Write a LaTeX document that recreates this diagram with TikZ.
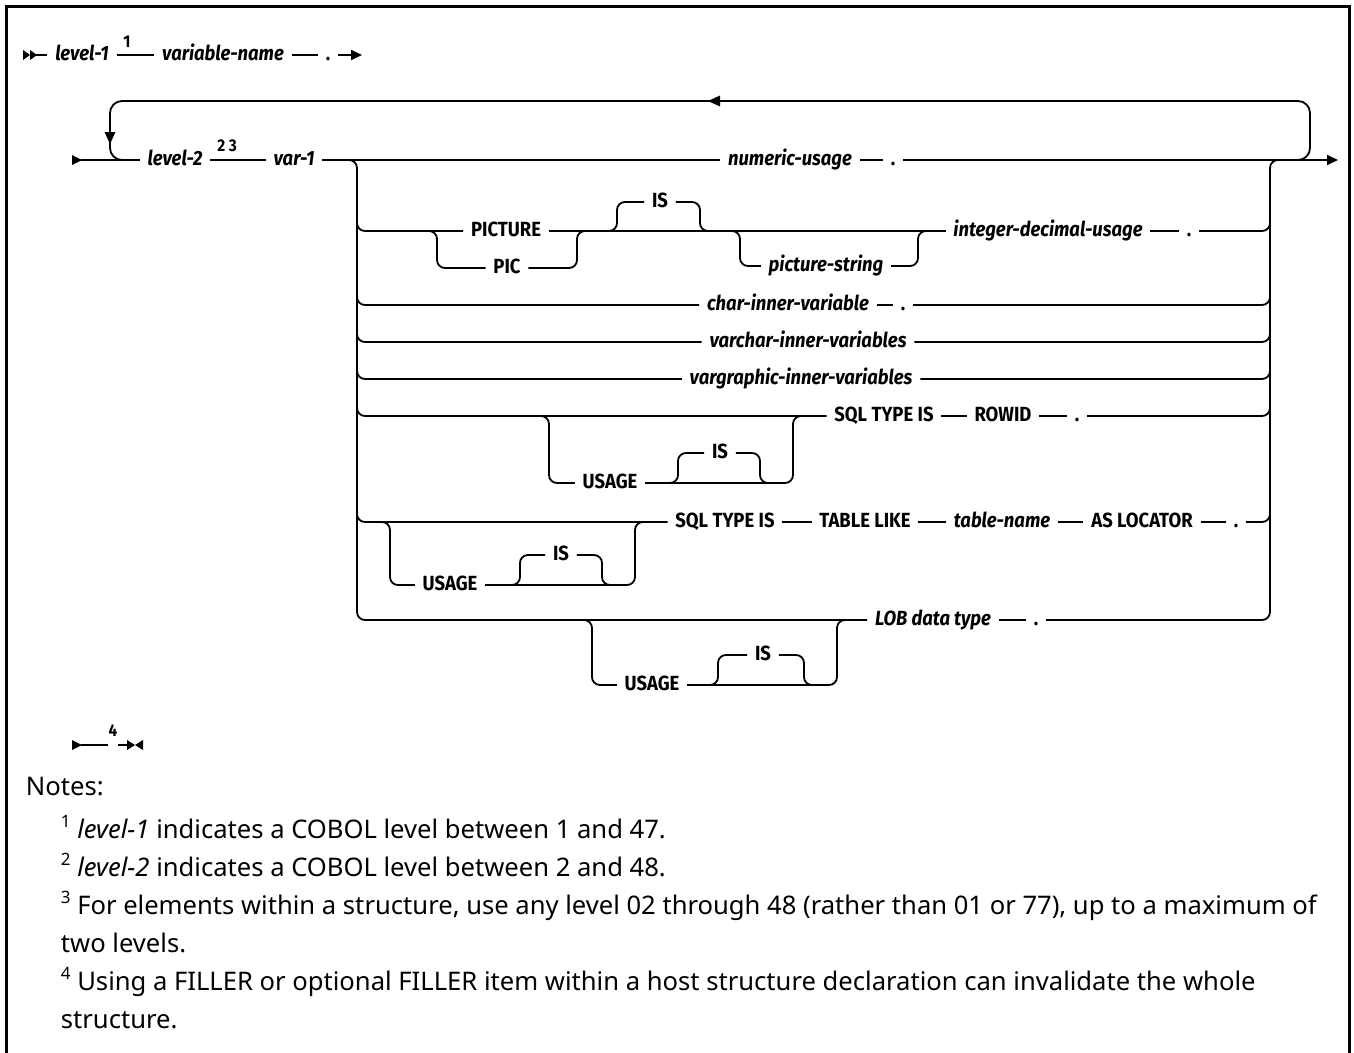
\documentclass[tikz,border=0pt]{standalone}
\usepackage{fontspec}
\setmainfont{Noto Sans}
\newfontfamily\dfont[FakeStretch=0.9]{Fira Sans}
\usetikzlibrary{arrows.meta}
\begin{document}
\begin{tikzpicture}[x=1pt,y=-1pt,line width=1.8pt,
  lbl/.style={inner xsep=7pt,inner ysep=0pt,text height=10pt,text depth=0pt,font=\dfont\bfseries\fontsize{20.5}{22}\selectfont},
  kw/.style={lbl},
  var/.style={lbl,font=\dfont\bfseries\itshape\fontsize{20.5}{22}\selectfont},
  supn/.style={inner sep=0pt,font=\dfont\bfseries\fontsize{17}{17}\selectfont},
  rc/.style={rounded corners=8pt},
  tip/.style={-{Triangle[length=11pt,width=10pt]}},
  note/.style={anchor=base west,inner sep=0pt,font=\fontsize{25.6}{30}\selectfont},
  frame/.style={line width=3pt}]
\useasboundingbox (0,0) rectangle (1354,1052);
\newcommand{\nsup}[1]{\raisebox{11pt}{\fontsize{17}{17}\selectfont #1}}
% frame
\draw[frame] (6,1060) -- (6,6) -- (1349,6) -- (1349,1060);

% ---------- row 1
\fill (23,50) -- (30,55) -- (23,60) -- cycle;
\fill (30,50) -- (37,55) -- (30,60) -- cycle;
\coordinate (s1) at (36,55);
\node[var] (lv1) at (82,55) {level-1};
\node[supn] (n1) at (127,42) {1};
\node[var] (vn) at (223,55) {variable-name};
\node[kw] (d1) at (328,55) {.};
\coordinate (e1) at (362,55);
\draw (s1) -- (lv1);
\draw (lv1) -- (vn);
\draw (vn) -- (d1);
\draw[tip] (d1) -- (e1);

% ---------- row 2 main
\fill (72,155) -- (82,160) -- (72,165) -- cycle;
\coordinate (s2) at (81,160);
\node[var] (lv2) at (175,160) {level-2};
\node[supn] (n23) at (227,146) {2 3};
\node[var] (var1) at (294,160) {var-1};
\node[var] (nu) at (790,160) {numeric-usage};
\node[kw] (d2) at (893,160) {.};
\coordinate (e2) at (1338,160);
\draw (s2) -- (lv2);
\draw (lv2) -- (var1);
\draw (var1) -- (nu);
\draw (nu) -- (d2);
\draw[tip] (d2) -- (e2);

% repeat loop
\draw[rounded corners=12pt] (1285,160) -- (1310,160) -- (1310,101) -- (110,101) -- (110,160) -- (135,160);
\fill (708,101) -- (720,95.5) -- (720,106.5) -- cycle;
\fill (110,144) -- (104.5,132) -- (115.5,132) -- cycle;

% choice block sides
\node[var] (lob) at (933,620) {LOB data type};
\node[kw] (d7) at (1036,620) {.};
\draw[rc] (340,160) -- (357,160) -- (357,620) -- (lob.west);
\draw (lob) -- (d7);
\draw[rc] (d7.east) -- (1270,620) -- (1270,160) -- (1292,160);

% ---------- branch 2: PICTURE
\node[kw] (pict) at (506,231) {PICTURE};
\node[kw] (pic) at (507,268) {PIC};
\node[kw] (is1) at (660,202) {IS};
\node[var] (ps) at (826,266) {picture-string};
\node[var] (idu) at (1048,231) {integer-decimal-usage};
\node[kw] (d3) at (1189,231) {.};
\draw[rc] (357,211) -- (357,231) -- (pict.west);
\draw[rc] (420,231) -- (437,231) -- (437,268) -- (pic.west);
\draw[rc] (pic.east) -- (577,268) -- (577,231) -- (594,231);
\draw (pict) -- (idu);
\draw[rc] (600,231) -- (617,231) -- (617,202) -- (is1.west);
\draw[rc] (is1.east) -- (700,202) -- (700,231) -- (717,231);
\draw[rc] (723,231) -- (740,231) -- (740,266) -- (ps.west);
\draw[rc] (ps.east) -- (918,266) -- (918,231) -- (935,231);
\draw (idu) -- (d3);
\draw[rc] (d3.east) -- (1270,231) -- (1270,211);

% ---------- branch 3-5
\node[var] (civ) at (788,305) {char-inner-variable};
\node[kw] (d4) at (903,305) {.};
\draw[rc] (357,285) -- (357,305) -- (civ.west);
\draw (civ) -- (d4);
\draw[rc] (d4.east) -- (1270,305) -- (1270,285);

\node[var] (vciv) at (808,342) {varchar-inner-variables};
\draw[rc] (357,322) -- (357,342) -- (vciv.west);
\draw[rc] (vciv.east) -- (1270,342) -- (1270,322);

\node[var] (vgiv) at (801,379) {vargraphic-inner-variables};
\draw[rc] (357,359) -- (357,379) -- (vgiv.west);
\draw[rc] (vgiv.east) -- (1270,379) -- (1270,359);

% ---------- branch 6: SQL TYPE IS ROWID
\node[kw] (sql1) at (884,416) {SQL TYPE IS};
\node[kw] (rowid) at (1003,416) {ROWID};
\node[kw] (d5) at (1077,416) {.};
\node[kw] (us1) at (610,483) {USAGE};
\node[kw] (is2) at (720,453) {IS};
\draw[rc] (357,396) -- (357,416) -- (sql1.west);
\draw[rc] (532,416) -- (549,416) -- (549,483) -- (us1.west);
\draw[rc] (us1.east) -- (793,483) -- (793,416) -- (810,416);
\draw[rc] (661,483) -- (678,483) -- (678,453) -- (is2.west);
\draw[rc] (is2.east) -- (760,453) -- (760,483) -- (777,483);
\draw (sql1) -- (rowid);
\draw (rowid) -- (d5);
\draw[rc] (d5.east) -- (1270,416) -- (1270,396);

% ---------- branch 7: SQL TYPE IS TABLE LIKE
\node[kw] (sql2) at (725,522) {SQL TYPE IS};
\node[kw] (tl) at (865,522) {TABLE LIKE};
\node[var] (tn) at (1002,522) {table-name};
\node[kw] (asl) at (1142,522) {AS LOCATOR};
\node[kw] (d6) at (1236,522) {.};
\node[kw] (us2) at (450,585) {USAGE};
\node[kw] (is3) at (561,555) {IS};
\draw[rc] (357,502) -- (357,522) -- (sql2.west);
\draw[rc] (373,522) -- (390,522) -- (390,585) -- (us2.west);
\draw[rc] (us2.east) -- (635,585) -- (635,522) -- (652,522);
\draw[rc] (503,585) -- (520,585) -- (520,555) -- (is3.west);
\draw[rc] (is3.east) -- (602,555) -- (602,585) -- (619,585);
\draw (sql2) -- (tl);
\draw (tl) -- (tn);
\draw (tn) -- (asl);
\draw (asl) -- (d6);
\draw[rc] (d6.east) -- (1270,522) -- (1270,502);

% ---------- branch 8: LOB
\node[kw] (us3) at (652,685) {USAGE};
\node[kw] (is4) at (763,655) {IS};
\draw[rc] (575,620) -- (592,620) -- (592,685) -- (us3.west);
\draw[rc] (us3.east) -- (837,685) -- (837,620) -- (854,620);
\draw[rc] (701,685) -- (718,685) -- (718,655) -- (is4.west);
\draw[rc] (is4.east) -- (804,655) -- (804,685) -- (821,685);

% ---------- end marker
\fill (72,740) -- (82,745) -- (72,750) -- cycle;
\coordinate (s3) at (81,745);
\node[supn] (n4) at (113,731) {4};
\coordinate (m3) at (108,745);
\coordinate (m4) at (118,745);
\coordinate (e3) at (128,745);
\draw (s3) -- (m3);
\draw (m4) -- (e3);
\fill (127,740) -- (135,745) -- (127,750) -- cycle;
\fill (143,740) -- (135,745) -- (143,750) -- cycle;

% ---------- notes
\node[note] (notes) at (25,795) {Notes:};
\node[note] (nt1) at (60,838) {\nsup{1} \textit{level-1} indicates a COBOL level between 1 and 47.};
\node[note] (nt2) at (60,876) {\nsup{2} \textit{level-2} indicates a COBOL level between 2 and 48.};
\node[note] (nt3) at (60,914) {\nsup{3} For elements within a structure, use any level 02 through 48 (rather than 01 or 77), up to a maximum of};
\node[note] (nt4) at (60,952) {two levels.};
\node[note] (nt5) at (60,990) {\nsup{4} Using a FILLER or optional FILLER item within a host structure declaration can invalidate the whole};
\node[note] (nt6) at (60,1028) {structure.};
\end{tikzpicture}
\end{document}
